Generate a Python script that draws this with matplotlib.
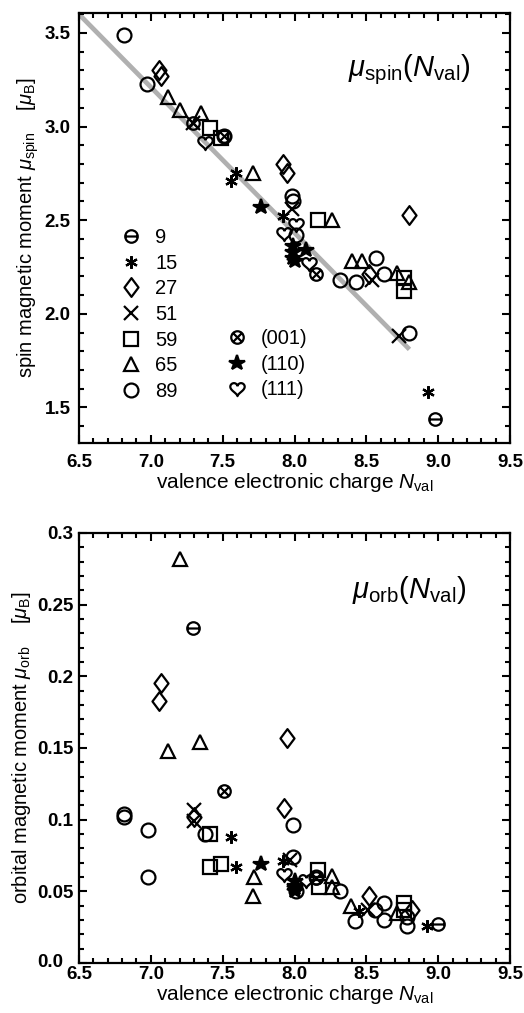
import matplotlib
matplotlib.use("Agg")
from matplotlib import pyplot as plt
from matplotlib.path import Path
from matplotlib.ticker import MultipleLocator
from matplotlib.transforms import ScaledTranslation
import numpy as np

plt.rcParams['font.family'] = ['Liberation Sans', 'DejaVu Sans']
plt.rcParams['mathtext.fontset'] = 'custom'
plt.rcParams['mathtext.rm'] = 'Liberation Sans'
plt.rcParams['mathtext.it'] = 'Liberation Sans:italic'
plt.rcParams['mathtext.bf'] = 'Liberation Sans:bold'

# ---- spin moment (top panel) ----
spin_9_x = [8.98]
spin_9_y = [1.44]
spin_15_x = [7.59, 7.56, 7.92, 8.93]
spin_15_y = [2.75, 2.71, 2.52, 1.58]
spin_27_x = [7.06, 7.07, 7.92, 7.945, 8.52, 8.80]
spin_27_y = [3.30, 3.27, 2.80, 2.75, 2.21, 2.53]
spin_51_x = [7.29, 7.98, 8.54, 8.73]
spin_51_y = [3.02, 2.56, 2.18, 1.88]
spin_59_x = [7.41, 7.49, 8.16, 8.76, 8.76]
spin_59_y = [2.99, 2.94, 2.50, 2.19, 2.12]
spin_65_x = [7.12, 7.20, 7.35, 7.71, 8.26, 8.40, 8.47, 8.71, 8.80]
spin_65_y = [3.16, 3.09, 3.07, 2.75, 2.50, 2.28, 2.28, 2.22, 2.17]
spin_89_x = [6.81, 6.97, 7.51, 7.98, 7.99, 8.01, 8.32, 8.43, 8.57, 8.62, 8.80]
spin_89_y = [3.49, 3.23, 2.95, 2.63, 2.60, 2.42, 2.18, 2.17, 2.30, 2.21, 1.90]
spin_001_x = [7.29, 7.51, 8.15]
spin_001_y = [3.02, 2.95, 2.21]
spin_110_x = [7.77, 7.99, 7.99, 7.99, 8.00, 8.08]
spin_110_y = [2.57, 2.36, 2.33, 2.30, 2.28, 2.34]
spin_111_x = [7.38, 7.93, 8.01, 8.10]
spin_111_y = [2.92, 2.43, 2.48, 2.27]
fit_x = [6.5, 8.8]
fit_y = [3.60, 1.81]

# ---- orbital moment (bottom panel) ----
orb_9_x = [7.29, 9.00]
orb_9_y = [0.234, 0.027]
orb_15_x = [7.56, 7.59, 7.92, 8.45, 8.92]
orb_15_y = [0.088, 0.067, 0.071, 0.036, 0.026]
orb_27_x = [7.07, 7.06, 7.30, 7.93, 7.945, 8.52, 8.82]
orb_27_y = [0.195, 0.183, 0.102, 0.108, 0.157, 0.047, 0.037]
orb_51_x = [7.30, 7.30, 7.97, 8.51]
orb_51_y = [0.107, 0.099, 0.072, 0.037]
orb_59_x = [7.41, 7.41, 7.49, 8.16, 8.17, 8.76, 8.76]
orb_59_y = [0.090, 0.067, 0.069, 0.065, 0.053, 0.042, 0.037]
orb_65_x = [7.20, 7.12, 7.34, 7.72, 7.71, 8.26, 8.26, 8.39, 8.71]
orb_65_y = [0.282, 0.148, 0.154, 0.060, 0.047, 0.061, 0.053, 0.040, 0.035]
orb_89_x = [6.81, 6.81, 6.98, 6.98, 7.38, 7.99, 7.99, 8.01, 8.15, 8.32, 8.42, 8.56, 8.62, 8.62, 8.78, 8.78]
orb_89_y = [0.104, 0.102, 0.093, 0.060, 0.090, 0.096, 0.074, 0.050, 0.060, 0.050, 0.029, 0.037, 0.042, 0.030, 0.032, 0.026]
orb_001_x = [7.51, 8.15]
orb_001_y = [0.120, 0.059]
orb_110_x = [7.77, 8.00, 8.00, 8.00, 8.00]
orb_110_y = [0.069, 0.057, 0.054, 0.052, 0.050]
orb_111_x = [7.93, 8.08]
orb_111_y = [0.062, 0.058]

cluster_labels = ['9', '15', '27', '51', '59', '65', '89']
surface_labels = ['(001)', '(110)', '(111)']


# custom marker shapes
def circle_with(lines):
    parts = [Path.unit_circle()]
    for (x0, y0), (x1, y1) in lines:
        parts.append(Path([[x0, y0], [x1, y1]], [Path.MOVETO, Path.LINETO]))
    return Path.make_compound_path(*parts)


m_ominus = circle_with([((-1, 0), (1, 0))])
m_otimes = circle_with([((-0.71, -0.71), (0.71, 0.71)), ((-0.71, 0.71), (0.71, -0.71))])
m_diamond = Path([[0, 1], [0.75, 0], [0, -1], [-0.75, 0], [0, 1]], closed=True)
t = np.linspace(0, 2 * np.pi, 80)
m_heart = Path(np.column_stack([16 * np.sin(t) ** 3,
                                13 * np.cos(t) - 5 * np.cos(2 * t) - 2 * np.cos(3 * t) - np.cos(4 * t)]) / 16.0)

styles = {
    '9': dict(marker=m_ominus, ms=9, mfc='none'),
    '15': dict(marker=(6, 2, 0), ms=9, mfc='none'),
    '27': dict(marker=m_diamond, ms=13.5, mfc='none'),
    '51': dict(marker='x', ms=9.5, mfc='none'),
    '59': dict(marker='s', ms=9.5, mfc='none'),
    '65': dict(marker='^', ms=10, mfc='none'),
    '89': dict(marker='o', ms=10, mfc='none'),
    '(001)': dict(marker=m_otimes, ms=9, mfc='none'),
    '(110)': dict(marker='*', ms=11.5, mfc='black'),
    '(111)': dict(marker=m_heart, ms=11, mfc='none'),
}

spin_sets = {'9': (spin_9_x, spin_9_y), '15': (spin_15_x, spin_15_y), '27': (spin_27_x, spin_27_y),
             '51': (spin_51_x, spin_51_y), '59': (spin_59_x, spin_59_y), '65': (spin_65_x, spin_65_y),
             '89': (spin_89_x, spin_89_y), '(001)': (spin_001_x, spin_001_y),
             '(110)': (spin_110_x, spin_110_y), '(111)': (spin_111_x, spin_111_y)}
orb_sets = {'9': (orb_9_x, orb_9_y), '15': (orb_15_x, orb_15_y), '27': (orb_27_x, orb_27_y),
            '51': (orb_51_x, orb_51_y), '59': (orb_59_x, orb_59_y), '65': (orb_65_x, orb_65_y),
            '89': (orb_89_x, orb_89_y), '(001)': (orb_001_x, orb_001_y),
            '(110)': (orb_110_x, orb_110_y), '(111)': (orb_111_x, orb_111_y)}

fig = plt.figure(figsize=(5.24, 10.13), dpi=100)
ax1 = fig.add_axes([0.1508, 0.5627, 0.8225, 0.4245])
ax2 = fig.add_axes([0.1508, 0.0494, 0.8225, 0.4245])


def style_axes(ax, xpad, ypad):
    ax.set_xlim(6.5, 9.5)
    ax.xaxis.set_major_locator(MultipleLocator(0.5))
    ax.xaxis.set_minor_locator(MultipleLocator(0.1))
    ax.tick_params(which='both', direction='in', top=True, right=True, width=1.5)
    ax.tick_params(which='major', length=6)
    ax.tick_params(which='minor', length=3.5)
    ax.tick_params(axis='x', pad=xpad, labelsize=13.5)
    ax.tick_params(axis='y', pad=ypad, labelsize=13.5)
    for lab in ax.get_xticklabels() + ax.get_yticklabels():
        lab.set_fontweight('bold')
    for sp in ax.spines.values():
        sp.set_linewidth(1.6)
    ax.set_xlabel(r'valence electronic charge $N_{\mathrm{val}}$', fontsize=15, labelpad=0)


# top panel
ax1.plot(fit_x, fit_y, color='#b0b0b0', lw=3.4, solid_capstyle='butt', zorder=1)
handles = {}
for lab, (xs, ys) in spin_sets.items():
    h, = ax1.plot(xs, ys, ls='none', color='black', mew=1.6, zorder=3, **styles[lab])
    handles[lab] = h
ax1.set_ylim(1.31, 3.607)
ax1.set_yticks([1.5, 2.0, 2.5, 3.0, 3.5])
ax1.set_yticklabels(['1.5', '2.0', '2.5', '3.0', '3.5'])
ax1.yaxis.set_minor_locator(MultipleLocator(0.1))
style_axes(ax1, 8, 6)
ax1.set_ylabel(r'spin magnetic moment $\mu_{\mathrm{spin}}$    [$\mu_{\mathrm{B}}$]', fontsize=14.5, labelpad=3)
ax1.text(0.765, 0.867, r'$\mu_{\mathrm{spin}}(N_{\mathrm{val}})$', transform=ax1.transAxes,
         fontsize=21, ha='center', va='center')

leg1 = ax1.legend([handles[k] for k in cluster_labels], cluster_labels, loc='upper left',
                  bbox_to_anchor=(0.0975, 0.50), frameon=False, fontsize=14.5, handlelength=1.0,
                  handletextpad=0.69, labelspacing=0.33, borderpad=0, borderaxespad=0)
ax1.add_artist(leg1)
ax1.legend([handles[k] for k in surface_labels], surface_labels, loc='upper left',
           bbox_to_anchor=(0.343, 0.265), frameon=False, fontsize=14.5, handlelength=1.0,
           handletextpad=0.69, labelspacing=0.33, borderpad=0, borderaxespad=0)

# bottom panel
for lab, (xs, ys) in orb_sets.items():
    ax2.plot(xs, ys, ls='none', color='black', mew=1.6, zorder=3, **styles[lab])
ax2.set_ylim(0, 0.3)
ax2.set_yticks([0.0, 0.05, 0.1, 0.15, 0.2, 0.25, 0.3])
ax2.set_yticklabels(['0.0', '0.05', '0.1', '0.15', '0.2', '0.25', '0.3'])
ax2.yaxis.set_minor_locator(MultipleLocator(0.01))
style_axes(ax2, 2, 4)
# the "0.0" label sits a little further left, next to the "6.5" below it
zero_lab = ax2.get_yticklabels()[0]
zero_lab.set_transform(zero_lab.get_transform() + ScaledTranslation(-7 / 72, 2 / 72, fig.dpi_scale_trans))
ax2.set_ylabel(r'orbital magnetic moment $\mu_{\mathrm{orb}}$    [$\mu_{\mathrm{B}}$]', fontsize=14.5, labelpad=3)
ax2.text(0.765, 0.867, r'$\mu_{\mathrm{orb}}(N_{\mathrm{val}})$', transform=ax2.transAxes,
         fontsize=21, ha='center', va='center')

fig.savefig('out.png', dpi=100)
